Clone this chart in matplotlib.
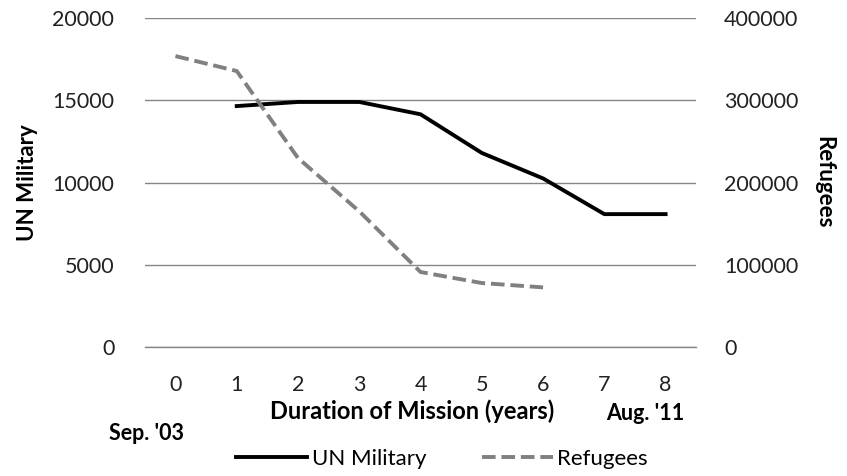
import numpy as np
import matplotlib.pyplot as plt

plt.rcParams['font.family'] = ['Lato', 'DejaVu Sans']

years = [0, 1, 2, 3, 4, 5, 6, 7, 8]
un_years = [1, 2, 3, 4, 5, 6, 7, 8]
un_military = [14650, 14900, 14900, 14150, 11800, 10250, 8080, 8080]
ref_years = [0, 1, 2, 3, 4, 5, 6]
refugees = [353800, 335600, 229800, 165000, 91200, 77800, 72500]

fig = plt.figure(figsize=(8.47, 4.76), dpi=100)
ax = fig.add_axes([0.171, 0.271, 0.651, 0.691])
ax2 = ax.twinx()

for a in (ax, ax2):
    for s in a.spines.values():
        s.set_visible(False)
    a.tick_params(length=0, labelsize=15.5, colors='#222222')

ax.set_xlim(-0.5, 8.5)
ax.set_ylim(0, 20000)
ax.set_yticks([0, 5000, 10000, 15000, 20000])
ax.set_xticks(years)
ax2.set_ylim(0, 400000)
ax2.set_yticks([0, 100000, 200000, 300000, 400000])
ax.tick_params(axis='y', pad=22)
ax.tick_params(axis='x', pad=20)
ax2.tick_params(axis='y', pad=20)
ax.grid(axis='y', color='#858585', linewidth=1)
ax.axhline(0, color='#858585', linewidth=1, clip_on=False, zorder=0.5)
ax.set_axisbelow(True)

l1, = ax.plot(un_years, un_military, color='black', linewidth=2.8, label='UN Military')
l2, = ax2.plot(ref_years, refugees, color='#808080', linewidth=2.8,
               linestyle=(0, (3.5, 1.5)), label='Refugees')

ax.set_ylabel('UN Military', fontsize=16, fontweight='bold', labelpad=10)
ax2.set_ylabel('Refugees', fontsize=16, fontweight='bold', rotation=270, labelpad=26)
ax.set_xlabel('Duration of Mission (years)', fontsize=17, fontweight='bold', labelpad=6)
ax.xaxis.set_label_coords((412 - 145) / 551, -0.12)
ax.xaxis.label.set_va('center')
ax.xaxis.set_label_coords((412 - 145) / 551, -(411 - 347) / 329)

fig.text(146 / 847, 1 - 433 / 476, "Sep. '03", fontsize=15.5, fontweight='bold',
         ha='center', va='center')
fig.text(645 / 847, 1 - 413 / 476, "Aug. '11", fontsize=15.5, fontweight='bold',
         ha='center', va='center')

fig.legend([l1, l2], ['UN Military', 'Refugees'], loc='center',
           bbox_to_anchor=(442 / 847, 1 - 459 / 476), ncol=2, frameon=False,
           fontsize=16, handlelength=3.2, handletextpad=0.2, columnspacing=2.5)

fig.savefig('out.png', dpi=100)
